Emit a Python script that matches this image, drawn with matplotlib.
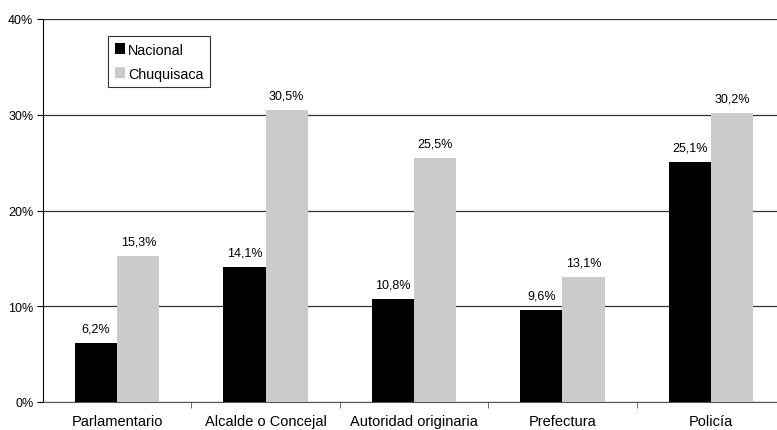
import matplotlib
matplotlib.use("Agg")
from matplotlib import pyplot as plt
import numpy as np

plt.rcParams['font.family'] = ['Liberation Sans', 'DejaVu Sans']

categorias = ['Parlamentario', 'Alcalde o Concejal', 'Autoridad originaria', 'Prefectura', 'Policía']
nacional = [6.2, 14.1, 10.8, 9.6, 25.1]
chuquisaca = [15.3, 30.5, 25.5, 13.1, 30.2]

fig = plt.figure(figsize=(7.77, 4.31), dpi=100)
ax = fig.add_axes([43/777, 28/431, 742/777, 383/431])

x = np.arange(len(categorias))
w = 0.285
b1 = ax.bar(x - w/2, nacional, w, color='black', label='Nacional', zorder=3)
b2 = ax.bar(x + w/2, chuquisaca, w, color='#cbcbcb', label='Chuquisaca', zorder=3)

for bars, vals in ((b1, nacional), (b2, chuquisaca)):
    for r, v in zip(bars, vals):
        ax.text(r.get_x() + r.get_width()/2, v + 1.2, f"{v:.1f}%".replace('.', ','),
                ha='center', va='baseline', fontsize=9)

ax.set_xlim(-0.5, 4.5)
ax.set_ylim(0, 40)
ax.set_yticks([0, 10, 20, 30, 40])
ax.set_yticklabels(['0%', '10%', '20%', '30%', '40%'], fontsize=9)
ax.yaxis.grid(True, color='#333333', linewidth=0.9, zorder=0)
ax.set_axisbelow(True)

ax.set_xticks(x)
ax.set_xticklabels(categorias, fontsize=10.5)
ax.tick_params(axis='x', length=0, pad=9)
ax.set_xticks(np.arange(0.5, 4.5, 1), minor=True)
ax.tick_params(axis='x', which='minor', length=4, direction='out', color='#555555')
ax.tick_params(axis='y', length=4, direction='out', pad=3)

ax.spines['right'].set_visible(False)
ax.spines['top'].set_visible(False)
ax.spines['bottom'].set_color('#555555')

leg = ax.legend(loc='upper left', bbox_to_anchor=(0.088, 0.955), fontsize=10.3, frameon=True,
                fancybox=False, edgecolor='black', handlelength=0.75, handleheight=0.75,
                handletextpad=0.2, borderpad=0.45, labelspacing=0.7, borderaxespad=0)
leg.get_frame().set_linewidth(0.8)

fig.savefig('out.png', dpi=100)
